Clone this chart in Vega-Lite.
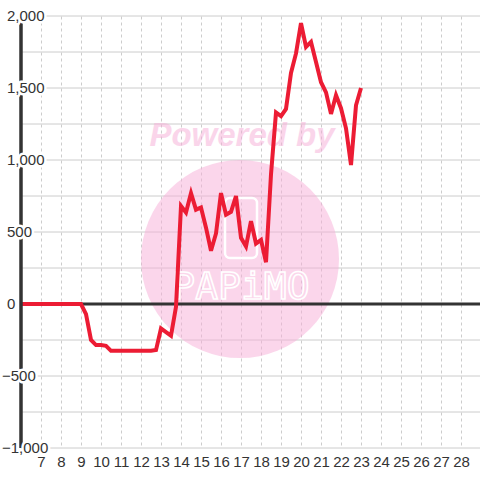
{
  "$schema": "https://vega.github.io/schema/vega-lite/v6.json",
  "width": 460,
  "height": 432,
  "autosize": {"type": "none"},
  "padding": {"left": 21, "top": 16, "right": 0, "bottom": 32},
  "background": "white",
  "config": {
    "view": {"stroke": null},
    "font": "Liberation Sans",
    "axisX": {
      "grid": true, "gridDash": [3, 3], "gridColor": "#cccccc", "gridWidth": 1,
      "domain": false, "ticks": false, "tickSize": 0, "labelPadding": 6,
      "labelFontSize": 15, "labelColor": "#333333", "labelFont": "Liberation Sans",
      "labelFlush": false, "labelOverlap": false
    }
  },
  "datasets": {
    "pnl": [
      {"t": 6.0, "v": 0}, {"t": 6.25, "v": 0}, {"t": 6.5, "v": 0}, {"t": 6.75, "v": 0},
      {"t": 7.0, "v": 0}, {"t": 7.25, "v": 0}, {"t": 7.5, "v": 0}, {"t": 7.75, "v": 0},
      {"t": 8.0, "v": 0}, {"t": 8.25, "v": 0}, {"t": 8.5, "v": 0}, {"t": 8.75, "v": 0},
      {"t": 9.0, "v": 0}, {"t": 9.25, "v": -70}, {"t": 9.5, "v": -250}, {"t": 9.75, "v": -285},
      {"t": 10.0, "v": -285}, {"t": 10.25, "v": -290}, {"t": 10.5, "v": -325}, {"t": 10.75, "v": -325},
      {"t": 11.0, "v": -325}, {"t": 11.25, "v": -325}, {"t": 11.5, "v": -325}, {"t": 11.75, "v": -325},
      {"t": 12.0, "v": -325}, {"t": 12.25, "v": -325}, {"t": 12.5, "v": -325}, {"t": 12.75, "v": -320},
      {"t": 13.0, "v": -170}, {"t": 13.25, "v": -195}, {"t": 13.5, "v": -220}, {"t": 13.75, "v": -20},
      {"t": 14.0, "v": 680}, {"t": 14.25, "v": 635}, {"t": 14.5, "v": 770}, {"t": 14.75, "v": 655},
      {"t": 15.0, "v": 670}, {"t": 15.25, "v": 530}, {"t": 15.5, "v": 370}, {"t": 15.75, "v": 490},
      {"t": 16.0, "v": 770}, {"t": 16.25, "v": 620}, {"t": 16.5, "v": 640}, {"t": 16.75, "v": 750},
      {"t": 17.0, "v": 460}, {"t": 17.25, "v": 400}, {"t": 17.5, "v": 575}, {"t": 17.75, "v": 420},
      {"t": 18.0, "v": 445}, {"t": 18.25, "v": 290}, {"t": 18.5, "v": 900}, {"t": 18.75, "v": 1330},
      {"t": 19.0, "v": 1305}, {"t": 19.25, "v": 1355}, {"t": 19.5, "v": 1605}, {"t": 19.75, "v": 1740},
      {"t": 20.0, "v": 1950}, {"t": 20.25, "v": 1785}, {"t": 20.5, "v": 1820}, {"t": 20.75, "v": 1680},
      {"t": 21.0, "v": 1540}, {"t": 21.25, "v": 1470}, {"t": 21.5, "v": 1320}, {"t": 21.75, "v": 1450},
      {"t": 22.0, "v": 1360}, {"t": 22.25, "v": 1220}, {"t": 22.5, "v": 965}, {"t": 22.75, "v": 1380},
      {"t": 23.0, "v": 1500}
    ],
    "grid": [
      {"v": -1000}, {"v": -750}, {"v": -500}, {"v": -250}, {"v": 250}, {"v": 500}, {"v": 750},
      {"v": 1000}, {"v": 1250}, {"v": 1500}, {"v": 1750}, {"v": 2000}
    ],
    "labels": [
      {"v": -1000}, {"v": -500}, {"v": 0}, {"v": 500}, {"v": 1000}, {"v": 1500}, {"v": 2000}
    ],
    "wm": [{"label": "Powered by", "logo": "PAPiMO"}]
  },
  "data": {"name": "wm"},
  "layer": [
    {
      "data": {"name": "grid"},
      "mark": {"type": "rule", "color": "#cccccc", "strokeWidth": 1},
      "encoding": {
        "y": {"field": "v", "type": "quantitative", "scale": {"domain": [-1000, 2000], "nice": false, "zero": false}, "axis": null}
      }
    },
    {
      "mark": {"type": "point", "shape": "circle", "filled": true, "color": "#f7add7", "opacity": 0.5, "size": 39204, "strokeWidth": 0},
      "encoding": {
        "x": {"datum": 16.95, "type": "quantitative", "scale": {"domain": [6, 29], "nice": false, "zero": false}, "axis": {"title": null, "values": [7, 8, 9, 10, 11, 12, 13, 14, 15, 16, 17, 18, 19, 20, 21, 22, 23, 24, 25, 26, 27, 28], "labelOverlap": false}},
        "y": {"datum": 312, "type": "quantitative", "scale": {"domain": [-1000, 2000], "nice": false, "zero": false}, "axis": null}
      }
    },
    {
      "mark": {"type": "text", "font": "Liberation Sans", "fontSize": 33, "fontWeight": "bold", "fontStyle": "italic", "color": "#f7add7", "opacity": 0.5, "align": "center", "baseline": "alphabetic"},
      "encoding": {
        "x": {"datum": 17.05, "type": "quantitative", "scale": {"domain": [6, 29], "nice": false, "zero": false}, "axis": {"title": null, "values": [7, 8, 9, 10, 11, 12, 13, 14, 15, 16, 17, 18, 19, 20, 21, 22, 23, 24, 25, 26, 27, 28], "labelOverlap": false}},
        "y": {"datum": 1097, "type": "quantitative", "scale": {"domain": [-1000, 2000], "nice": false, "zero": false}, "axis": null},
        "text": {"field": "label", "type": "nominal"}
      }
    },
    {
      "mark": {"type": "rect", "fill": "white", "fillOpacity": 0, "stroke": "white", "strokeWidth": 2.5, "cornerRadius": 5},
      "encoding": {
        "x": {"datum": 16.2, "type": "quantitative", "scale": {"domain": [6, 29], "nice": false, "zero": false}, "axis": {"title": null, "values": [7, 8, 9, 10, 11, 12, 13, 14, 15, 16, 17, 18, 19, 20, 21, 22, 23, 24, 25, 26, 27, 28], "labelOverlap": false}},
        "x2": {"datum": 17.8},
        "y": {"datum": 736, "type": "quantitative", "scale": {"domain": [-1000, 2000], "nice": false, "zero": false}, "axis": null},
        "y2": {"datum": 319}
      }
    },
    {
      "mark": {"type": "text", "font": "DejaVu Sans Mono", "fontSize": 38, "fill": "#fbd6eb", "fillOpacity": 0, "stroke": "white", "strokeWidth": 1.6, "align": "center", "baseline": "middle"},
      "encoding": {
        "x": {"datum": 17.0, "type": "quantitative", "scale": {"domain": [6, 29], "nice": false, "zero": false}, "axis": {"title": null, "values": [7, 8, 9, 10, 11, 12, 13, 14, 15, 16, 17, 18, 19, 20, 21, 22, 23, 24, 25, 26, 27, 28], "labelOverlap": false}},
        "y": {"datum": 111, "type": "quantitative", "scale": {"domain": [-1000, 2000], "nice": false, "zero": false}, "axis": null},
        "text": {"field": "logo", "type": "nominal"}
      }
    },
    {
      "mark": {"type": "rule", "color": "#333333", "strokeWidth": 3},
      "encoding": {
        "y": {"datum": 0, "type": "quantitative", "scale": {"domain": [-1000, 2000], "nice": false, "zero": false}, "axis": null}
      }
    },
    {
      "data": {"name": "pnl"},
      "mark": {"type": "line", "color": "#ec1c34", "strokeWidth": 4},
      "encoding": {
        "x": {"field": "t", "type": "quantitative", "scale": {"domain": [6, 29], "nice": false, "zero": false}, "axis": {"title": null, "values": [7, 8, 9, 10, 11, 12, 13, 14, 15, 16, 17, 18, 19, 20, 21, 22, 23, 24, 25, 26, 27, 28], "labelOverlap": false}},
        "y": {"field": "v", "type": "quantitative", "scale": {"domain": [-1000, 2000], "nice": false, "zero": false}, "axis": null}
      }
    },
    {
      "mark": {"type": "rule", "color": "#333333", "strokeWidth": 3.5},
      "encoding": {
        "x": {"datum": 6, "type": "quantitative", "scale": {"domain": [6, 29], "nice": false, "zero": false}, "axis": {"title": null, "values": [7, 8, 9, 10, 11, 12, 13, 14, 15, 16, 17, 18, 19, 20, 21, 22, 23, 24, 25, 26, 27, 28], "labelOverlap": false}}
      }
    },
    {
      "data": {"name": "labels"},
      "transform": [{"filter": "datum.v >= 0"}],
      "mark": {"type": "text", "font": "Liberation Sans", "fontSize": 15, "align": "left", "baseline": "middle", "dx": -14, "fill": "white", "stroke": "white", "strokeWidth": 5, "strokeJoin": "round"},
      "encoding": {
        "x": {"datum": 6, "type": "quantitative", "scale": {"domain": [6, 29], "nice": false, "zero": false}, "axis": {"title": null, "values": [7, 8, 9, 10, 11, 12, 13, 14, 15, 16, 17, 18, 19, 20, 21, 22, 23, 24, 25, 26, 27, 28], "labelOverlap": false}},
        "y": {"field": "v", "type": "quantitative", "scale": {"domain": [-1000, 2000], "nice": false, "zero": false}, "axis": null},
        "text": {"field": "v", "type": "quantitative", "format": ","}
      }
    },
    {
      "data": {"name": "labels"},
      "transform": [{"filter": "datum.v < 0"}],
      "mark": {"type": "text", "font": "Liberation Sans", "fontSize": 15, "align": "left", "baseline": "middle", "dx": -19, "fill": "white", "stroke": "white", "strokeWidth": 5, "strokeJoin": "round"},
      "encoding": {
        "x": {"datum": 6, "type": "quantitative", "scale": {"domain": [6, 29], "nice": false, "zero": false}, "axis": {"title": null, "values": [7, 8, 9, 10, 11, 12, 13, 14, 15, 16, 17, 18, 19, 20, 21, 22, 23, 24, 25, 26, 27, 28], "labelOverlap": false}},
        "y": {"field": "v", "type": "quantitative", "scale": {"domain": [-1000, 2000], "nice": false, "zero": false}, "axis": null},
        "text": {"field": "v", "type": "quantitative", "format": ","}
      }
    },
    {
      "data": {"name": "labels"},
      "transform": [{"filter": "datum.v >= 0"}],
      "mark": {"type": "text", "font": "Liberation Sans", "fontSize": 15, "align": "left", "baseline": "middle", "dx": -14, "color": "#333333"},
      "encoding": {
        "x": {"datum": 6, "type": "quantitative", "scale": {"domain": [6, 29], "nice": false, "zero": false}, "axis": {"title": null, "values": [7, 8, 9, 10, 11, 12, 13, 14, 15, 16, 17, 18, 19, 20, 21, 22, 23, 24, 25, 26, 27, 28], "labelOverlap": false}},
        "y": {"field": "v", "type": "quantitative", "scale": {"domain": [-1000, 2000], "nice": false, "zero": false}, "axis": null},
        "text": {"field": "v", "type": "quantitative", "format": ","}
      }
    },
    {
      "data": {"name": "labels"},
      "transform": [{"filter": "datum.v < 0"}],
      "mark": {"type": "text", "font": "Liberation Sans", "fontSize": 15, "align": "left", "baseline": "middle", "dx": -19, "color": "#333333"},
      "encoding": {
        "x": {"datum": 6, "type": "quantitative", "scale": {"domain": [6, 29], "nice": false, "zero": false}, "axis": {"title": null, "values": [7, 8, 9, 10, 11, 12, 13, 14, 15, 16, 17, 18, 19, 20, 21, 22, 23, 24, 25, 26, 27, 28], "labelOverlap": false}},
        "y": {"field": "v", "type": "quantitative", "scale": {"domain": [-1000, 2000], "nice": false, "zero": false}, "axis": null},
        "text": {"field": "v", "type": "quantitative", "format": ","}
      }
    }
  ]
}
